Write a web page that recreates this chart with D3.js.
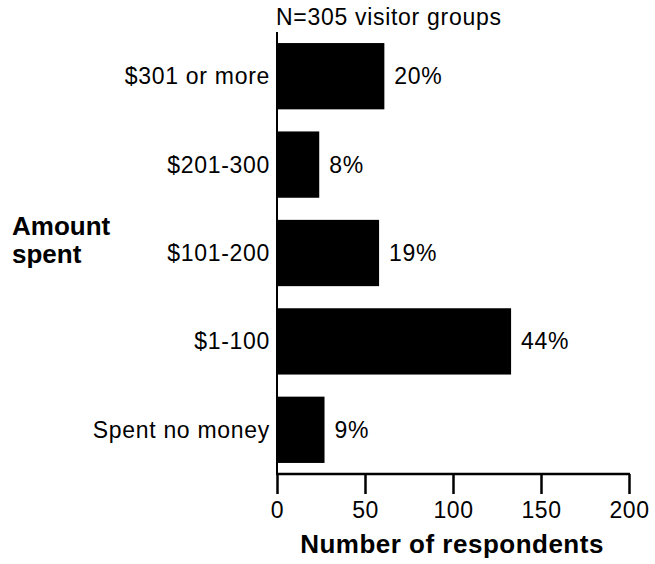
<!DOCTYPE html>
<html><head><meta charset="utf-8">
<script src="https://cdn.jsdelivr.net/npm/d3@7"></script>
<style>body{margin:0;background:#fff}svg{display:block}text{font-family:"Liberation Sans",Arial,sans-serif;fill:#000}</style>
</head><body>
<svg id="c" width="655" height="564"></svg>
<script>
const categories = ["$301 or more", "$201-300", "$101-200", "$1-100", "Spent no money"];
const respondents = [61, 24, 58, 133, 27];
const percentLabels = ["20%", "8%", "19%", "44%", "9%"];
const xTicks = [0, 50, 100, 150, 200];

const svg = d3.select("#c");
const x = d3.scaleLinear().domain([0, 200]).range([277, 629]);
const y = d3.scaleBand().domain(categories).range([32, 474]).paddingInner(0.25).paddingOuter(0.125);

svg.selectAll("rect.bar").data(categories).enter().append("rect")
  .attr("x", x(0)).attr("y", d => y(d))
  .attr("width", (d, i) => x(respondents[i]) - x(0))
  .attr("height", y.bandwidth()).attr("fill", "#000");

const fs = 23;
const ls = "0.7px";
svg.selectAll("text.cat").data(categories).enter().append("text")
  .attr("x", x(0) - 7).attr("y", d => y(d) + y.bandwidth() / 2).attr("dy", "0.35em")
  .attr("text-anchor", "end").style("font-size", fs + "px").style("letter-spacing", ls).text(d => d);

svg.selectAll("text.pct").data(categories).enter().append("text")
  .attr("x", (d, i) => x(respondents[i]) + 10).attr("y", d => y(d) + y.bandwidth() / 2).attr("dy", "0.35em")
  .style("font-size", fs + "px").style("letter-spacing", ls).text((d, i) => percentLabels[i]);

// y axis line
svg.append("line").attr("x1", x(0)).attr("x2", x(0)).attr("y1", 32).attr("y2", 474)
  .attr("stroke", "#000").attr("stroke-width", 2);

const xAxis = svg.append("g").attr("transform", "translate(0,474)")
  .call(d3.axisBottom(x).tickValues(xTicks).tickSize(20).tickSizeOuter(0).tickPadding(8));
xAxis.select(".domain").attr("stroke-width", 2.5).attr("d", `M${x(0) - 1},0H${x(200) + 1}`);
xAxis.selectAll(".tick line").attr("stroke-width", 2.5);
xAxis.selectAll(".tick text").style("font-size", fs + "px").style("font-family", "Liberation Sans, Arial, sans-serif").style("letter-spacing", "0.5px").attr("fill", "#000");

svg.append("text").attr("x", 276).attr("y", 25).style("font-size", fs + "px").style("letter-spacing", ls).text("N=305 visitor groups");

svg.append("text").attr("x", 452).attr("y", 553).attr("text-anchor", "middle")
  .style("font-size", "26px").style("font-weight", "bold").style("letter-spacing", "0.5px").text("Number of respondents");

const at = svg.append("text").attr("x", 12).style("font-size", "26px").style("font-weight", "bold");
at.append("tspan").attr("x", 12).attr("y", 235).text("Amount");
at.append("tspan").attr("x", 12).attr("y", 263).text("spent");
</script>
</body></html>
